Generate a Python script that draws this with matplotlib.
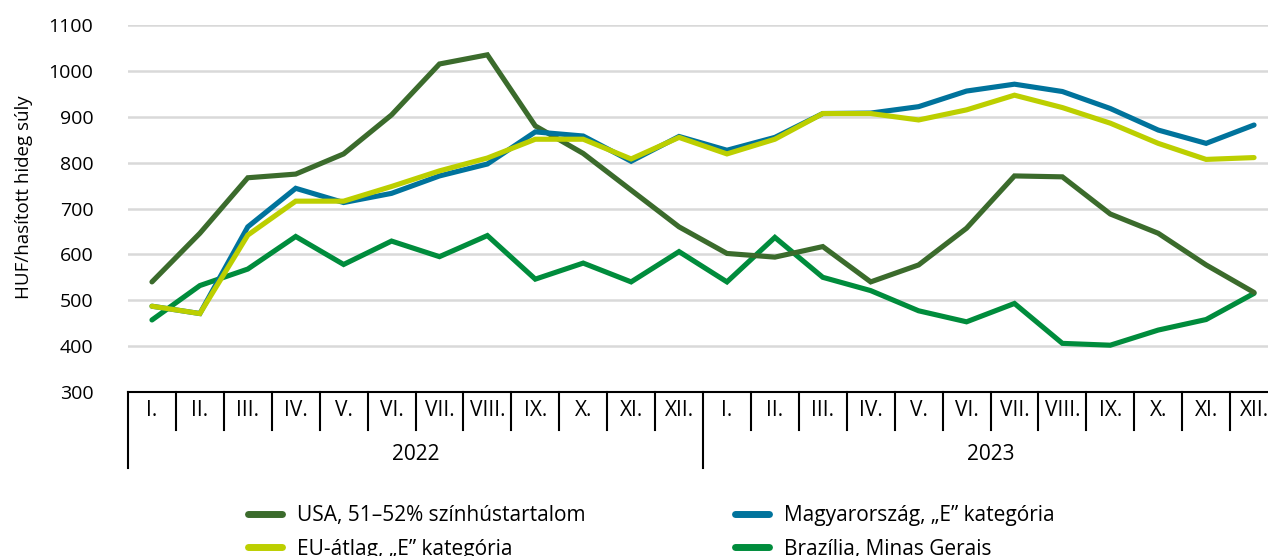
import matplotlib
matplotlib.use("Agg")
import matplotlib.pyplot as plt
from matplotlib import font_manager
from matplotlib.lines import Line2D
import matplotlib.transforms as mtransforms

months = ["I.", "II.", "III.", "IV.", "V.", "VI.", "VII.", "VIII.", "IX.", "X.", "XI.", "XII."]
years = ["2022", "2023"]
categories = months * 2

usa = [540, 646, 767, 775, 819, 904, 1015, 1035, 880, 820, 740, 660,
       602, 594, 617, 540, 577, 657, 771, 769, 688, 646, 577, 517]
hun = [487, 471, 660, 744, 713, 733, 771, 797, 867, 858, 803, 857,
       827, 855, 907, 908, 922, 956, 971, 955, 918, 871, 842, 882]
eu = [487, 471, 642, 716, 716, 748, 782, 810, 851, 851, 808, 855,
      819, 851, 907, 907, 893, 915, 947, 920, 886, 842, 807, 811]
bra = [457, 532, 568, 639, 578, 629, 595, 641, 546, 581, 540, 606,
       540, 637, 550, 521, 477, 453, 493, 406, 402, 435, 458, 515]

labels = {"usa": "USA, 51–52% színhústartalom", "hun": "Magyarország, „E” kategória",
          "eu": "EU-átlag, „E” kategória", "bra": "Brazília, Minas Gerais"}
colors = {"usa": "#3b6b2c", "hun": "#00739c", "eu": "#bccf00", "bra": "#008c3c"}

avail = {f.name for f in font_manager.fontManager.ttflist}
main_font = "Open Sans" if "Open Sans" in avail else "DejaVu Sans"
narrow_font = "Liberation Sans Narrow" if "Liberation Sans Narrow" in avail else main_font
plt.rcParams["font.family"] = [main_font, "DejaVu Sans"]

W, H = 1268, 556
fig = plt.figure(figsize=(W / 100, H / 100), dpi=100)
left_px, right_px, top_px, bot_px = 128, 1278, 25, 392
ax = fig.add_axes([left_px / W, 1 - bot_px / H, (right_px - left_px) / W, (bot_px - top_px) / H])

x = list(range(len(categories)))
lw = 3.7
ax.plot(x, bra, color=colors["bra"], lw=lw, solid_capstyle="round", solid_joinstyle="miter", zorder=3)
ax.plot(x, usa, color=colors["usa"], lw=lw, solid_capstyle="round", solid_joinstyle="miter", zorder=4)
ax.plot(x, hun, color=colors["hun"], lw=lw, solid_capstyle="round", solid_joinstyle="miter", zorder=5)
ax.plot(x, eu, color=colors["eu"], lw=lw, solid_capstyle="round", solid_joinstyle="miter", zorder=6)

ax.set_xlim(-0.5, len(categories) - 0.5)
ax.set_ylim(300, 1100)
ax.set_yticks(range(300, 1101, 100))
ax.yaxis.grid(True, color="#d9d9d9", lw=1.8)
ax.set_axisbelow(True)
ax.tick_params(axis="y", length=0, labelsize=14, pad=25)
ax.tick_params(axis="x", length=0, labelbottom=False)
for s in ["top", "right", "left"]:
    ax.spines[s].set_visible(False)
ax.spines["bottom"].set_color("#000000")
ax.spines["bottom"].set_linewidth(1.5)
ax.set_ylabel("HUF/hasított hideg súly", fontsize=13.5)
ax.yaxis.set_label_coords(-0.083, 0.53)

# category axis: separators and labels
trans = mtransforms.blended_transform_factory(ax.transData, ax.transAxes)
ax_h_px = bot_px - top_px
def ay(py):
    return -(py - bot_px) / ax_h_px
for i in range(len(categories) + 1):
    xb = i - 0.5
    ybot = 468 if i % 12 == 0 else 430
    ax.add_line(Line2D([xb, xb], [0, ay(ybot)], transform=trans, color="black", lw=1.5, clip_on=False))
for i, lab in enumerate(categories):
    ax.text(i, ay(411), lab, transform=trans, ha="center", va="center", fontsize=15,
            family=[narrow_font, "DejaVu Sans"])
for j, yr in enumerate(years):
    ax.text(j * 12 + 5.5, ay(455), yr, transform=trans, ha="center", va="center", fontsize=15,
            family=[narrow_font, "DejaVu Sans"])

def add_legend(keys, xpx):
    hs = [Line2D([], [], color=colors[k], lw=5, solid_capstyle="round") for k in keys]
    leg = fig.legend(hs, [labels[k] for k in keys], loc="upper left",
                     bbox_to_anchor=(xpx / W, 1 - 505 / H), frameon=False, fontsize=15,
                     handlelength=1.65, handletextpad=0.7, labelspacing=0.6,
                     borderpad=0, borderaxespad=0)
    return leg

add_legend(["usa", "eu"], 248)
add_legend(["hun", "bra"], 735)

fig.savefig("out.png", dpi=100)
